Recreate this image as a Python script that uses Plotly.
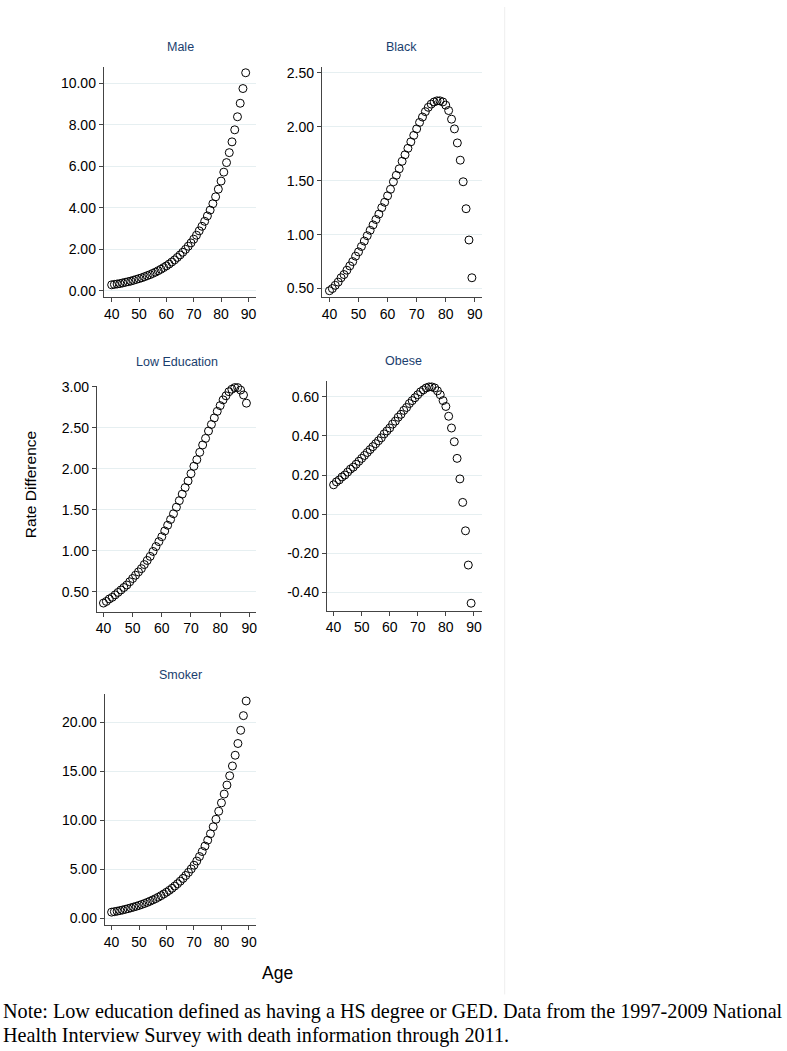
import plotly.graph_objects as go

ages = list(range(40, 90))

male = [0.28, 0.30, 0.32, 0.34, 0.37, 0.40, 0.43, 0.46, 0.50, 0.54,
        0.58, 0.62, 0.67, 0.72, 0.77, 0.83, 0.89, 0.96, 1.03, 1.11,
        1.19, 1.28, 1.38, 1.48, 1.60, 1.72, 1.85, 1.99, 2.14, 2.30,
        2.48, 2.67, 2.88, 3.10, 3.34, 3.60, 3.88, 4.19, 4.52, 4.89,
        5.28, 5.71, 6.17, 6.65, 7.17, 7.75, 8.38, 9.03, 9.74, 10.50]

black = [0.48, 0.50, 0.53, 0.56, 0.60, 0.63, 0.67, 0.71, 0.75, 0.80,
         0.84, 0.89, 0.94, 0.99, 1.04, 1.09, 1.14, 1.19, 1.25, 1.30,
         1.36, 1.42, 1.49, 1.55, 1.61, 1.68, 1.74, 1.80, 1.86, 1.92,
         1.98, 2.04, 2.09, 2.14, 2.18, 2.21, 2.23, 2.24, 2.24, 2.23,
         2.20, 2.15, 2.07, 1.98, 1.85, 1.69, 1.49, 1.24, 0.95, 0.60]

low_education = [0.36, 0.38, 0.41, 0.43, 0.46, 0.49, 0.52, 0.55, 0.58, 0.62,
                 0.66, 0.70, 0.74, 0.78, 0.83, 0.88, 0.93, 0.99, 1.05, 1.11,
                 1.17, 1.24, 1.31, 1.38, 1.45, 1.53, 1.61, 1.69, 1.77, 1.85,
                 1.94, 2.03, 2.11, 2.20, 2.29, 2.37, 2.46, 2.54, 2.62, 2.70,
                 2.77, 2.84, 2.89, 2.94, 2.97, 2.99, 2.99, 2.96, 2.90, 2.80]

obese = [0.150, 0.165, 0.175, 0.190, 0.200, 0.215, 0.230, 0.240, 0.255, 0.270,
         0.285, 0.300, 0.315, 0.330, 0.345, 0.360, 0.375, 0.390, 0.410, 0.425,
         0.440, 0.460, 0.475, 0.495, 0.510, 0.530, 0.545, 0.565, 0.580, 0.595,
         0.610, 0.625, 0.635, 0.645, 0.650, 0.650, 0.645, 0.630, 0.610, 0.580,
         0.550, 0.500, 0.440, 0.370, 0.285, 0.180, 0.060, -0.085, -0.260, -0.455]

smoker = [0.60, 0.65, 0.70, 0.76, 0.82, 0.89, 0.96, 1.04, 1.12, 1.20,
          1.29, 1.39, 1.49, 1.60, 1.72, 1.85, 1.98, 2.13, 2.29, 2.46,
          2.64, 2.83, 3.04, 3.27, 3.51, 3.77, 4.05, 4.35, 4.67, 5.02,
          5.40, 5.83, 6.29, 6.80, 7.36, 7.96, 8.62, 9.33, 10.10, 10.92,
          11.78, 12.68, 13.60, 14.55, 15.55, 16.65, 17.85, 19.20, 20.70, 22.20]

x_ticks = [40, 50, 60, 70, 80, 90]
y_ticks = {
    "Male": [0, 2, 4, 6, 8, 10],
    "Black": [0.5, 1.0, 1.5, 2.0, 2.5],
    "Low Education": [0.5, 1.0, 1.5, 2.0, 2.5, 3.0],
    "Obese": [-0.4, -0.2, 0.0, 0.2, 0.4, 0.6],
    "Smoker": [0, 5, 10, 15, 20],
}
series = {
    "Male": male,
    "Black": black,
    "Low Education": low_education,
    "Obese": obese,
    "Smoker": smoker,
}

W, H = 787, 1051


def fx(px):
    return px / W


def fy(py):
    return 1 - py / H


# geometry in pixels: left, right, top, bottom, xrange, yrange, title centre
geom = {
    "Male": (103, 256, 60, 292.7, [37.1, 92.9], [-0.33, 10.8], (180, 40.7)),
    "Black": (321.7, 482, 60, 292.3, [37.4, 92.4], [0.421, 2.558], (402, 40.5)),
    "Low Education": (96, 255.7, 381.7, 609.3, [37.7, 92.3], [0.255, 3.012], (176, 357.5)),
    "Obese": (326.7, 482, 376.7, 608.3, [37.6, 92.8], [-0.493, 0.681], (404, 357)),
    "Smoker": (104, 255.7, 692.7, 925.3, [37.5, 92.6], [-0.74, 22.87], (180, 673.3)),
}

fig = go.Figure()
annotations = []
font_family = "Liberation Sans, Arial, sans-serif"

for i, name in enumerate(series):
    n = i + 1
    xa = "x" if n == 1 else f"x{n}"
    ya = "y" if n == 1 else f"y{n}"
    left, right, top, bottom, xr, yr, (tx, ty) = geom[name]
    fig.add_trace(go.Scatter(
        x=ages, y=series[name], mode="markers",
        marker=dict(symbol="circle-open", size=8, color="black",
                    line=dict(width=1, color="black")),
        xaxis=xa, yaxis=ya, showlegend=False, cliponaxis=False,
    ))
    key_x = "xaxis" if n == 1 else f"xaxis{n}"
    key_y = "yaxis" if n == 1 else f"yaxis{n}"
    fig.layout[key_x] = dict(
        domain=[fx(left), fx(right)], range=xr, anchor=ya,
        tickvals=x_ticks, ticks="outside", ticklen=4, tickwidth=1,
        tickcolor="#444", showline=True, linecolor="#444", linewidth=1,
        showgrid=False, zeroline=False,
        tickfont=dict(size=14, color="black", family=font_family),
    )
    yt = y_ticks[name]
    fig.layout[key_y] = dict(
        domain=[fy(bottom), fy(top)], range=yr, anchor=xa,
        tickvals=yt, ticktext=[f"{v:.2f}" for v in yt],
        ticks="outside", ticklen=4, tickwidth=1, tickcolor="#444",
        showline=True, linecolor="#444", linewidth=1,
        showgrid=True, gridcolor="#e6eff1", gridwidth=1, zeroline=False,
        tickfont=dict(size=14, color="black", family=font_family),
    )
    annotations.append(dict(
        text=name, x=fx(tx), y=fy(ty), xref="paper", yref="paper",
        xanchor="center", yanchor="middle", showarrow=False,
        font=dict(size=12.5, color="#1a3e6e", family=font_family),
    ))

annotations.append(dict(
    text="Rate Difference", x=fx(29), y=fy(481), xref="paper", yref="paper",
    xanchor="center", yanchor="middle", textangle=-90, showarrow=False,
    font=dict(size=15.5, color="black", family=font_family),
))
annotations.append(dict(
    text="Age", x=fx(277.5), y=fy(973), xref="paper", yref="paper",
    xanchor="center", yanchor="middle", showarrow=False,
    font=dict(size=17.5, color="black", family=font_family),
))
note_lines = [
    "Note: Low education defined as having a HS degree or GED. Data from the 1997-2009 National",
    "Health Interview Survey with death information through 2011.",
]
for j, line in enumerate(note_lines):
    annotations.append(dict(
        text=line, x=0, y=fy(1012 + 24 * j), xref="paper", yref="paper",
        xanchor="left", yanchor="middle", showarrow=False,
        font=dict(size=20.2, color="black", family="Liberation Serif, Times New Roman, serif"),
    ))

fig.update_layout(
    width=W, height=H, margin=dict(l=0, r=0, t=0, b=0),
    paper_bgcolor="white", plot_bgcolor="white",
    annotations=annotations,
    shapes=[dict(type="line", xref="paper", yref="paper",
                 x0=fx(505), x1=fx(505), y0=fy(0), y1=fy(995),
                 line=dict(color="#eeeeee", width=1))],
)

fig.write_html(
    "out.html",
    config={"displayModeBar": False},
    post_script="document.body.style.margin='0';document.body.style.overflow='hidden';",
)
